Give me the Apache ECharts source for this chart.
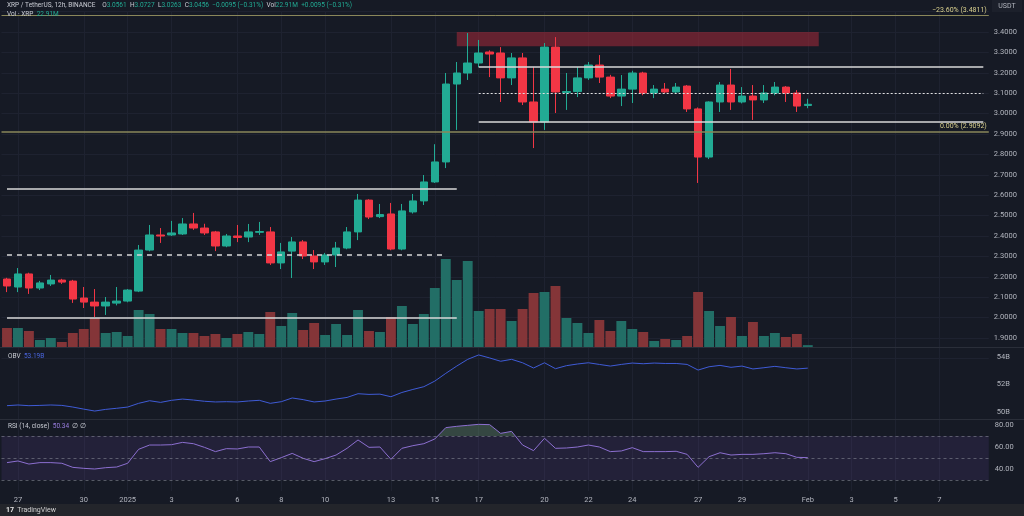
<!DOCTYPE html>
<html><head><meta charset="utf-8">
<script src="https://cdn.jsdelivr.net/npm/echarts@6/dist/echarts.min.js"></script>
<style>html,body{margin:0;padding:0;background:#161a25;}#c{width:1024px;height:516px;}</style>
</head><body><div id="c"></div>
<script>
// ---------- data (12h candles, XRP/USDT) ----------
const opens  = [2.189,2.150,2.214,2.145,2.165,2.184,2.179,2.096,2.076,2.057,2.071,2.081,2.130,2.331,2.405,2.405,2.410,2.459,2.439,2.420,2.351,2.400,2.395,2.418,2.420,2.268,2.326,2.371,2.302,2.273,2.307,2.341,2.420,2.576,2.495,2.508,2.336,2.518,2.572,2.665,2.763,3.145,3.199,3.248,3.302,3.297,3.175,3.273,3.057,2.959,3.326,3.103,3.108,3.175,3.238,3.179,3.086,3.120,3.199,3.101,3.120,3.106,3.135,3.023,2.787,3.057,3.140,3.057,3.086,3.067,3.101,3.130,3.101,3.040];
const closes = [2.155,2.214,2.145,2.170,2.184,2.174,2.091,2.076,2.057,2.076,2.081,2.135,2.331,2.405,2.400,2.415,2.459,2.439,2.415,2.351,2.400,2.393,2.420,2.422,2.268,2.322,2.371,2.302,2.273,2.307,2.341,2.420,2.576,2.493,2.505,2.336,2.523,2.572,2.665,2.763,3.145,3.199,3.248,3.297,3.292,3.175,3.273,3.057,2.959,3.326,3.106,3.108,3.175,3.238,3.179,3.086,3.120,3.199,3.101,3.120,3.106,3.130,3.023,2.787,3.057,3.140,3.057,3.086,3.067,3.101,3.130,3.101,3.037,3.0456];
const lows   = [2.125,2.125,2.116,2.135,2.155,2.165,2.072,2.047,2.003,2.013,2.060,2.075,2.125,2.325,2.366,2.400,2.405,2.430,2.405,2.326,2.345,2.370,2.370,2.405,2.258,2.238,2.194,2.287,2.238,2.258,2.248,2.335,2.380,2.483,2.488,2.330,2.330,2.510,2.552,2.660,2.733,2.920,3.165,3.228,3.179,3.057,3.140,3.042,2.831,2.920,3.003,3.018,3.081,3.165,3.150,3.076,3.037,3.052,3.090,3.076,3.100,3.100,3.008,2.660,2.777,3.008,3.018,3.050,2.969,3.052,3.090,3.057,3.008,3.0263];
const highs  = [2.195,2.243,2.220,2.180,2.209,2.190,2.185,2.150,2.140,2.101,2.150,2.140,2.356,2.454,2.439,2.474,2.488,2.513,2.460,2.425,2.410,2.454,2.459,2.469,2.444,2.366,2.395,2.380,2.331,2.317,2.371,2.444,2.606,2.580,2.557,2.562,2.557,2.606,2.699,2.850,3.199,3.253,3.395,3.361,3.310,3.326,3.297,3.297,3.228,3.346,3.375,3.199,3.228,3.253,3.287,3.190,3.189,3.210,3.205,3.140,3.150,3.150,3.140,3.030,3.060,3.155,3.219,3.130,3.140,3.140,3.155,3.135,3.115,3.0727];
const volumes = [160,160,136,64,80,48,120,152,240,120,128,96,304,272,152,152,120,120,96,112,80,112,128,112,288,176,280,144,200,104,192,104,304,136,128,248,336,192,272,480,712,544,696,296,312,312,216,312,440,448,496,240,200,120,224,136,216,152,128,56,72,64,96,448,296,176,248,96,208,96,120,88,112,22.91]; // millions
const obv = [50.46,50.51,50.46,50.48,50.51,50.48,50.36,50.21,50.07,50.19,50.27,50.36,50.63,50.82,50.70,50.85,50.94,50.87,50.78,50.73,50.75,50.73,50.80,50.85,50.63,50.75,51.02,50.90,50.73,50.80,50.94,51.06,51.33,51.28,51.30,51.11,51.42,51.64,51.84,52.25,52.81,53.34,53.83,54.15,53.93,53.69,53.83,53.58,53.20,53.58,53.15,53.37,53.49,53.58,53.46,53.34,53.46,53.56,53.51,53.56,53.53,53.53,53.46,53.05,53.29,53.39,53.25,53.34,53.13,53.22,53.32,53.22,53.13,53.19]; // billions
const rsi = [45.8,47.3,44.5,45.8,45.8,45.2,41.5,40.6,40.0,41.2,41.8,45.2,57.9,61.8,61.8,62.1,64.2,63.0,59.7,55.8,58.5,58.2,60.0,60.0,46.7,50.3,54.2,49.7,46.7,49.4,52.7,58.8,66.4,59.7,60.0,48.8,58.8,61.2,63.0,67.3,77.6,78.8,79.7,80.6,80.3,72.4,74.2,61.8,56.7,67.9,58.8,59.1,60.0,61.8,60.0,55.8,56.4,59.4,55.8,55.8,55.8,56.1,53.3,41.5,51.2,54.8,52.7,53.3,53.3,53.9,54.8,53.9,50.6,50.34];

// ---------- axis categories & tick labels ----------
const startTime = Date.UTC(2024, 11, 26, 12);
const slotCount = 90;
const categories = [];
for (let i = 0; i < slotCount; i++) {
  categories.push(new Date(startTime + i * 43200000).toISOString().slice(0, 16).replace('T', ' '));
}
const tickDates = ['2024-12-27','2024-12-30','2025-01-01','2025-01-03','2025-01-06','2025-01-08','2025-01-10','2025-01-13','2025-01-15','2025-01-17','2025-01-20','2025-01-22','2025-01-24','2025-01-27','2025-01-29','2025-02-01','2025-02-03','2025-02-05','2025-02-07'];
const tickTexts = ['27','30','2025','3','6','8','10','13','15','17','20','22','24','27','29','Feb','3','5','7'];
const labelMap = {};
tickDates.forEach((d, k) => { labelMap[d + ' 00:00'] = tickTexts[k]; });

// drawings
const fibLevels = [{price: 3.4811, text: '−23.60% (3.4811)'}, {price: 2.9092, text: '0.00% (2.9092)'}];
const lastPrice = 3.0456;

// ---------- styles ----------
const UP = '#22ab94', DN = '#f23645', VUP = '#226e66', VDN = '#843538';
const GRID = '#1e2230', TXT = '#b2b5be';
const FONT = 'Roboto, "Liberation Sans", sans-serif';
const L = 1.5, W = 987.3;

const candleData = opens.map((o, i) => [o, closes[i], lows[i], highs[i]]);
const volData = volumes.map((v, i) => ({value: v, itemStyle: {color: closes[i] >= opens[i] ? VUP : VDN}}));

function xAxis(gi, labels, split) {
  return {
    type: 'category', gridIndex: gi, data: categories, boundaryGap: true,
    axisLine: {show: false}, axisTick: {show: false, alignWithLabel: true},
    axisLabel: labels ? {show: true, interval: 0, color: TXT, fontSize: 7.5, fontFamily: FONT, margin: 5,
      formatter: v => labelMap[v] || ''} : {show: false},
    splitLine: {show: split, alignWithLabel: true, interval: (i, v) => (v in labelMap), lineStyle: {color: GRID, width: 1}}
  };
}
const white = {color: '#d8d8d8', width: 1.5, type: 'solid'};

const option = {
  backgroundColor: '#161a25',
  animation: false,
  textStyle: {fontFamily: FONT},
  grid: [
    {left: L, width: W, top: 11.6, height: 346.8},
    {left: L, width: W, top: 228, height: 120},
    {left: L, width: W, top: 329.5, height: 110},
    {left: L, width: W, top: 403, height: 88},
    {left: L, width: W, top: 419, height: 17}
  ],
  xAxis: [xAxis(0, false, true), xAxis(1, false, false), xAxis(2, false, true), xAxis(3, true, true), xAxis(4, false, false)],
  yAxis: [
    {type: 'value', gridIndex: 0, position: 'right', min: 1.8, max: 3.5, interval: 0.1,
      axisLine: {show: false}, axisTick: {show: false},
      axisLabel: {color: TXT, fontSize: 7.5, fontFamily: FONT, margin: 5, formatter: v => (v < 1.85 || v > 3.45) ? '' : v.toFixed(4)},
      splitLine: {lineStyle: {color: GRID, width: 1}}},
    {type: 'value', gridIndex: 1, min: 0, max: 960, show: false},
    {type: 'value', gridIndex: 2, position: 'right', min: 48, max: 56, interval: 2,
      axisLine: {show: false}, axisTick: {show: false}, splitLine: {show: false},
      axisLabel: {color: TXT, fontSize: 7.5, fontFamily: FONT, margin: 8, formatter: v => (v >= 49 && v <= 55) ? v + 'B' : ''}},
    {type: 'value', gridIndex: 3, position: 'right', min: 20, max: 100, interval: 20,
      axisLine: {show: false}, axisTick: {show: false}, splitLine: {show: false},
      axisLabel: {color: TXT, fontSize: 7.5, fontFamily: FONT, margin: 6, formatter: v => (v >= 30 && v <= 90) ? v.toFixed(2) : ''}},
    {type: 'value', gridIndex: 4, min: 70, max: 85.45, show: false}
  ],
  series: [
    {
      type: 'bar', xAxisIndex: 1, yAxisIndex: 1, data: volData, barWidth: '90%', z: 1
    },
    {
      type: 'candlestick', xAxisIndex: 0, yAxisIndex: 0, data: candleData, barWidth: 8, z: 3,
      itemStyle: {color: UP, color0: DN, borderColor: UP, borderColor0: DN, borderWidth: 1},
      markArea: {silent: true, itemStyle: {color: 'rgba(150,40,55,0.62)'},
        data: [[{coord: [41, 3.40]}, {coord: [74, 3.33]}]]},
      markLine: {
        silent: true, symbol: ['none', 'none'],
        data: [
          {yAxis: fibLevels[0].price, lineStyle: {color: '#8a875a', width: 1, type: 'solid'},
            label: {show: true, position: 'insideEndTop', formatter: fibLevels[0].text, color: '#d9d08e', fontSize: 7, distance: 2}},
          {yAxis: fibLevels[1].price, lineStyle: {color: '#8a875a', width: 1.5, type: 'solid'},
            label: {show: true, position: 'insideEndTop', formatter: fibLevels[1].text, color: '#d9d08e', fontSize: 7, distance: 2}},
          [{coord: [43, 3.23], lineStyle: white, label: {show: false}}, {coord: [89, 3.23]}],
          [{coord: [43, 3.10], lineStyle: {color: '#e0e0e0', width: 1.2, type: [2, 2]}, label: {show: false}}, {coord: [89, 3.10]}],
          [{coord: [43, 2.96], lineStyle: white, label: {show: false}}, {coord: [89, 2.96]}],
          [{coord: [0, 2.63], lineStyle: white, label: {show: false}}, {coord: [41, 2.63]}],
          [{coord: [0, 2.31], lineStyle: {color: '#d8d8d8', width: 1.5, type: [5, 5]}, label: {show: false}}, {coord: [40, 2.31]}],
          [{coord: [0, 2.00], lineStyle: white, label: {show: false}}, {coord: [41, 2.00]}],
          {yAxis: lastPrice, lineStyle: {opacity: 0},
            label: {show: true, position: 'end', distance: 2, backgroundColor: UP, padding: [2, 3, 2, 3],
              formatter: '{a|3.0456}\n{b|05:04:15}',
              rich: {a: {color: '#ffffff', fontSize: 7, lineHeight: 9}, b: {color: '#d8f3ee', fontSize: 6.5, lineHeight: 8}}}}
        ]
      }
    },
    {
      type: 'line', xAxisIndex: 2, yAxisIndex: 2, data: obv, symbol: 'none', z: 3,
      lineStyle: {color: '#3f5bd6', width: 1}
    },
    {
      type: 'line', xAxisIndex: 3, yAxisIndex: 3, data: rsi, symbol: 'none', z: 4,
      lineStyle: {color: '#8c6fd0', width: 1},
      markArea: {silent: true, itemStyle: {color: 'rgba(126,87,194,0.13)'}, data: [[{yAxis: 30}, {yAxis: 70}]]},
      markLine: {silent: true, symbol: ['none', 'none'], label: {show: false},
        lineStyle: {color: 'rgba(140,143,155,0.55)', width: 1, type: [3, 3]},
        data: [{yAxis: 70}, {yAxis: 50}, {yAxis: 30}]}
    },
    {
      type: 'line', xAxisIndex: 4, yAxisIndex: 4, data: rsi, symbol: 'none', z: 3,
      lineStyle: {opacity: 0, width: 0},
      areaStyle: {origin: 'start', color: 'rgba(120,170,130,0.45)'}
    }
  ],
  graphic: [
    {type: 'rect', shape: {x: 0, y: 347, width: 1024, height: 1}, style: {fill: '#2a2e39'}, silent: true, z: 10},
    {type: 'rect', shape: {x: 0, y: 419, width: 1024, height: 1}, style: {fill: '#2a2e39'}, silent: true, z: 10},
    {type: 'rect', shape: {x: 0, y: 504, width: 1024, height: 12}, style: {fill: '#23252b'}, silent: true, z: 10},
    {type: 'text', x: 6, y: 510, z: 11, silent: true,
      style: {text: '{l|17} {t|TradingView}', verticalAlign: 'middle',
        rich: {l: {fill: '#e8e8e8', fontSize: 7, fontWeight: 'bold', fontFamily: FONT}, t: {fill: '#d0d0d0', fontSize: 7, fontFamily: FONT}}}},
    {type: 'rect', shape: {x: 992, y: 0, width: 30, height: 12}, style: {fill: '#1c202b'}, silent: true, z: 10},
    {type: 'text', x: 1007, y: 6, z: 11, silent: true,
      style: {text: 'USDT', fill: TXT, fontSize: 7, fontFamily: FONT, align: 'center', verticalAlign: 'middle'}},
    {type: 'text', x: 7, y: 5, z: 11, silent: true,
      style: {verticalAlign: 'middle',
        text: '{n|XRP / TetherUS, 12h, BINANCE}  {k|O}{v|3.0561} {k|H}{v|3.0727} {k|L}{v|3.0263} {k|C}{v|3.0456} {v|−0.0095 (−0.31%)} {k|Vol}{v|22.91M} {v|+0.0095 (−0.31%)}',
        rich: {n: {fill: '#c9ccd4', fontSize: 6.5, fontFamily: FONT}, k: {fill: '#c9ccd4', fontSize: 6.5, fontFamily: FONT}, v: {fill: UP, fontSize: 6.5, fontFamily: FONT}}}},
    {type: 'text', x: 7, y: 14, z: 11, silent: true,
      style: {verticalAlign: 'middle', text: '{k|Vol · XRP} {v|22.91M}',
        rich: {k: {fill: '#c9ccd4', fontSize: 6.5, fontFamily: FONT}, v: {fill: UP, fontSize: 6.5, fontFamily: FONT}}}},
    {type: 'text', x: 8, y: 356, z: 11, silent: true,
      style: {verticalAlign: 'middle', text: '{k|OBV} {v|53.19B}',
        rich: {k: {fill: '#c9ccd4', fontSize: 6.5, fontFamily: FONT}, v: {fill: '#4a66e0', fontSize: 6.5, fontFamily: FONT}}}},
    {type: 'text', x: 8, y: 426, z: 11, silent: true,
      style: {verticalAlign: 'middle', text: '{k|RSI (14, close)} {v|50.34} {k|∅ ∅}',
        rich: {k: {fill: '#c9ccd4', fontSize: 6.5, fontFamily: FONT}, v: {fill: '#9a7ee0', fontSize: 6.5, fontFamily: FONT}}}}
  ]
};

const chart = echarts.init(document.getElementById('c'), null, {renderer: 'canvas'});
chart.setOption(option);
</script></body></html>
